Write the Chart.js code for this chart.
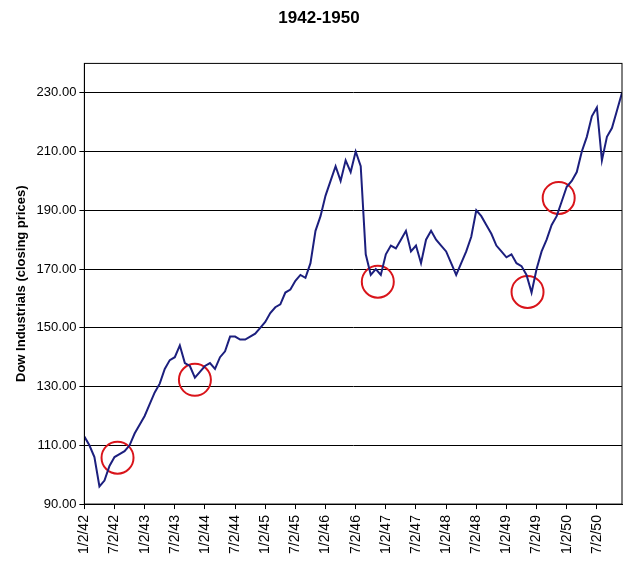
<!DOCTYPE html>
<html><head><meta charset="utf-8">
<script src="https://cdn.jsdelivr.net/npm/chart.js@4"></script>
<style>body{margin:0;background:#fff}#wrap{width:640px;height:564px}</style>
</head><body><div id="wrap"><canvas id="c"></canvas></div>
<script>
// monthly closes, month 0 = Jan 1942
const closes = [113,110,106,96,98,103,106,107,108,110,114,117,120,124,128,131,136,139,140,144,138,137,133,135,
  137,138,136,140,142,147,147,146,146,147,148,150,152,155,157,158,162,163,166,168,167,172,183,188,
  195,200,205,200,207,203,210,205,175,168,170,168,175,178,177,180,183,176,178,172,180,183,180,178,
  176,172,168,172,176,181,190,188,185,182,178,176,174,175,172,171,168,162,170,176,180,185,188,193,
  198,200,203,210,215,222,225,207,215,218,224,230,234];
const tickMonths = [0,6,12,18,24,30,36,42,48,54,60,66,72,78,84,90,96,102];
const tickLabels = ["1/2/42","7/2/42","1/2/43","7/2/43","1/2/44","7/2/44","1/2/45","7/2/45","1/2/46","7/2/46",
  "1/2/47","7/2/47","1/2/48","7/2/48","1/2/49","7/2/49","1/2/50","7/2/50"];
const circleMonths = [6.6,22,58.4,88.2,94.4];
const circleValues = [105.8,132.3,165.7,162.2,194.2];

new Chart(document.getElementById('c'), {
  type: 'line',
  data: { datasets: [
    { data: closes.map((v,i)=>({x:i,y:v})), borderColor:'#1c1f7e', borderWidth:2, pointRadius:0, tension:0 },
    { type:'scatter', data: circleMonths.map((m,i)=>({x:m,y:circleValues[i]})), pointRadius:16,
      pointBorderColor:'#d9141a', pointBackgroundColor:'rgba(0,0,0,0)', pointBorderWidth:2 }
  ]},
  options: {
    responsive:true, maintainAspectRatio:false, animation:false,
    layout:{padding:{left:10,right:12,top:2,bottom:4}},
    plugins:{ legend:{display:false}, tooltip:{enabled:false},
      title:{display:true, text:'1942-1950', color:'#000', font:{family:'Liberation Sans',size:17,weight:'bold'}, padding:{top:6,bottom:35}} },
    scales:{
      x:{ type:'linear', min:0, max:107,
        afterBuildTicks: a => { a.ticks = tickMonths.map(v=>({value:v})); },
        ticks:{ callback:(v)=>tickLabels[tickMonths.indexOf(v)], maxRotation:90, minRotation:90, autoSkip:false,
          color:'#000', font:{family:'Liberation Sans',size:14}, padding:6 },
        grid:{drawOnChartArea:false, color:'#000', tickLength:5}, border:{color:'#000'} },
      y:{ min:90, max:240,
        afterBuildTicks: a => { a.ticks = [90,110,130,150,170,190,210,230].map(v=>({value:v})); },
        ticks:{ callback:v=>v.toFixed(2), color:'#000', font:{family:'Liberation Sans',size:13} },
        grid:{color:'#000', tickLength:5}, border:{color:'#000'},
        title:{display:true, text:'Dow Industrials (closing prices)', color:'#000', font:{family:'Liberation Sans',size:13,weight:'bold'}} }
    }
  },
  plugins:[{ id:'box', afterDraw(ch){ const {ctx,chartArea:a}=ch; ctx.save(); ctx.strokeStyle='#000'; ctx.lineWidth=1;
    ctx.strokeRect(a.left,a.top,a.right-a.left,a.bottom-a.top); ctx.restore(); } }]
});
</script></body></html>
